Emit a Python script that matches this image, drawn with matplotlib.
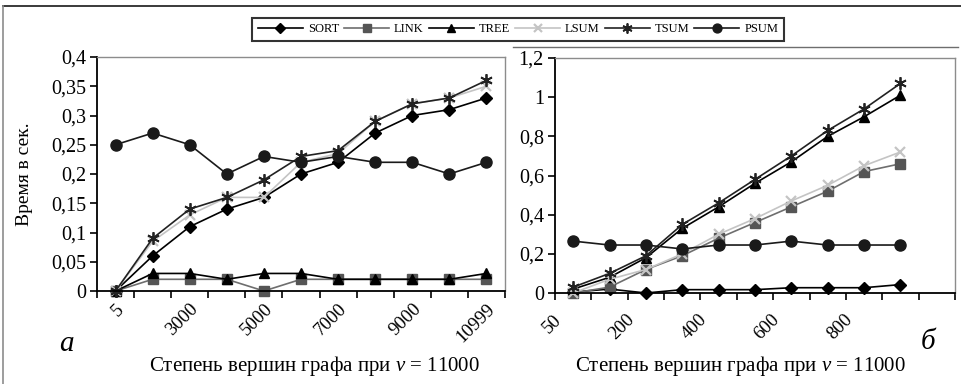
import matplotlib
matplotlib.use("Agg")
import matplotlib.pyplot as plt
from matplotlib.lines import Line2D
from matplotlib.transforms import ScaledTranslation

plt.rcParams["font.family"] = ["Liberation Serif", "DejaVu Serif"]
plt.rcParams["mathtext.fontset"] = "custom"
plt.rcParams["mathtext.rm"] = "Liberation Serif"
plt.rcParams["mathtext.it"] = "Liberation Serif:italic"

# ---------------------------------------------------------------------------
# Data (a): degree up to 10999, v = 11000
# ---------------------------------------------------------------------------
LEFT_CATS = ["5", "1000", "3000", "4000", "5000", "6000", "7000", "8000", "9000", "10000", "10999"]
LEFT_SORT = [0.0, 0.06, 0.11, 0.14, 0.16, 0.20, 0.22, 0.27, 0.30, 0.31, 0.33]
LEFT_LINK = [0.0, 0.02, 0.02, 0.02, 0.0, 0.02, 0.02, 0.02, 0.02, 0.02, 0.02]
LEFT_TREE = [0.0, 0.03, 0.03, 0.02, 0.03, 0.03, 0.02, 0.02, 0.02, 0.02, 0.03]
LEFT_LSUM = [0.0, 0.085, 0.13, 0.16, 0.16, 0.22, 0.235, 0.29, 0.32, 0.33, 0.35]
LEFT_TSUM = [0.0, 0.09, 0.14, 0.16, 0.19, 0.23, 0.24, 0.29, 0.32, 0.33, 0.36]
LEFT_PSUM = [0.25, 0.27, 0.25, 0.20, 0.23, 0.22, 0.23, 0.22, 0.22, 0.20, 0.22]
LEFT_YTICKS = [0, 0.05, 0.1, 0.15, 0.2, 0.25, 0.3, 0.35, 0.4]
LEFT_YLABELS = ["0", "0,05", "0,1", "0,15", "0,2", "0,25", "0,3", "0,35", "0,4"]

# ---------------------------------------------------------------------------
# Data (б): degree 50..900, v = 11000 (11th category left empty)
# ---------------------------------------------------------------------------
RIGHT_CATS = ["50", "100", "200", "300", "400", "500", "600", "700", "800", "900", ""]
RIGHT_SORT = [0.005, 0.02, 0.0, 0.017, 0.017, 0.017, 0.027, 0.027, 0.027, 0.043]
RIGHT_LINK = [0.0, 0.03, 0.12, 0.19, 0.28, 0.36, 0.44, 0.52, 0.62, 0.66]
RIGHT_TREE = [0.02, 0.08, 0.18, 0.33, 0.44, 0.56, 0.67, 0.80, 0.90, 1.01]
RIGHT_LSUM = [0.0, 0.07, 0.12, 0.20, 0.30, 0.38, 0.47, 0.55, 0.65, 0.72]
RIGHT_TSUM = [0.03, 0.10, 0.19, 0.35, 0.46, 0.58, 0.70, 0.83, 0.94, 1.07]
RIGHT_PSUM = [0.265, 0.245, 0.245, 0.225, 0.245, 0.245, 0.265, 0.245, 0.245, 0.245]
RIGHT_YTICKS = [0, 0.2, 0.4, 0.6, 0.8, 1.0, 1.2]
RIGHT_YLABELS = ["0", "0,2", "0,4", "0,6", "0,8", "1", "1,2"]

XLABEL = "Степень вершин графа при $\\mathit{v}$ = 11000"
YLABEL = "Время в сек."

# series styles
STYLES = {
    "SORT": dict(color="black", marker="D", mfc="black", mec="black", ms=6),
    "LINK": dict(color="#6e6e6e", marker="s", mfc="#555555", mec="#555555", ms=6.5),
    "TREE": dict(color="black", marker="^", mfc="black", mec="black", ms=7.5),
    "LSUM": dict(color="#c4c4c4", marker="x", mfc="#c4c4c4", mec="#c4c4c4", ms=7.5, mew=1.6),
    "TSUM": dict(color="#222222", marker=(6, 2, 0), mfc="#222222", mec="#222222", ms=9, mew=1.3),
    "PSUM": dict(color="#1a1a1a", marker="o", mfc="#1a1a1a", mec="#1a1a1a", ms=8),
}
ORDER = ["SORT", "LINK", "TREE", "LSUM", "TSUM", "PSUM"]


def draw_panel(ax, cats, series, yticks, ylabels, label_dx, label_pad):
    n = len(cats)
    handles = []
    for name in ORDER:
        vals = series[name]
        (h,) = ax.plot(range(len(vals)), vals, lw=1.2, label=name, **STYLES[name])
        h.set_clip_on(False)
        handles.append(h)

    ax.set_xlim(-0.5, n - 0.5)
    ax.set_ylim(yticks[0], yticks[-1])
    ax.set_yticks(yticks)
    ax.set_yticklabels(ylabels, fontsize=14.5)

    # category labels every other category, tick marks on boundaries
    pos = list(range(0, n, 2))
    ax.set_xticks(pos)
    ax.set_xticklabels([cats[i] for i in pos], fontsize=13.5, rotation=45,
                       ha="right", va="top")
    ax.set_xticks([i - 0.5 for i in range(n + 1)], minor=True)
    ax.tick_params(axis="x", which="major", length=0, pad=label_pad)
    ax.tick_params(axis="x", which="minor", length=5, width=1.2, direction="out")
    ax.tick_params(axis="y", length=5, width=1.2, direction="out", pad=3)
    offset = ScaledTranslation(label_dx / 100, 0, ax.figure.dpi_scale_trans)
    for lab in ax.get_xticklabels():
        lab.set_transform(lab.get_transform() + offset)

    for side in ("top", "right"):
        ax.spines[side].set_color("#8c8c8c")
        ax.spines[side].set_linewidth(1.0)
    for side in ("left", "bottom"):
        ax.spines[side].set_color("black")
        ax.spines[side].set_linewidth(1.3)
    return handles


fig = plt.figure(figsize=(9.61, 3.84), dpi=100)

ax_a = fig.add_axes([97 / 961, 1 - 291 / 384, 408 / 961, 234 / 384])
ax_b = fig.add_axes([555 / 961, 1 - 293 / 384, 400 / 961, 235 / 384])

handles = draw_panel(
    ax_a, LEFT_CATS,
    dict(SORT=LEFT_SORT, LINK=LEFT_LINK, TREE=LEFT_TREE,
         LSUM=LEFT_LSUM, TSUM=LEFT_TSUM, PSUM=LEFT_PSUM),
    LEFT_YTICKS, LEFT_YLABELS, label_dx=12, label_pad=7,
)
draw_panel(
    ax_b, RIGHT_CATS,
    dict(SORT=RIGHT_SORT, LINK=RIGHT_LINK, TREE=RIGHT_TREE,
         LSUM=RIGHT_LSUM, TSUM=RIGHT_TSUM, PSUM=RIGHT_PSUM),
    RIGHT_YTICKS, RIGHT_YLABELS, label_dx=-8, label_pad=13,
)

ax_a.set_ylabel(YLABEL, fontsize=14)
ax_a.yaxis.set_label_coords((33 - 97) / 408, 0.5)

fig.text(314 / 961, 1 - 366 / 384, XLABEL, fontsize=15, ha="center", va="center")
fig.text(740 / 961, 1 - 366 / 384, XLABEL, fontsize=15, ha="center", va="center")
fig.text(66 / 961, 1 - 344 / 384, "а", fontsize=21, style="italic", ha="center", va="center")
fig.text(928 / 961, 1 - 342 / 384, "б", fontsize=21, style="italic", ha="center", va="center")

# chart frames
fig.add_artist(Line2D([3 / 961, 1.0], [1 - 6 / 384] * 2, transform=fig.transFigure,
                      color="#3a3a3a", lw=1.4))
fig.add_artist(Line2D([3 / 961] * 2, [0, 1 - 6 / 384], transform=fig.transFigure,
                      color="#8c8c8c", lw=1.2))
fig.add_artist(Line2D([513 / 961, 958 / 961], [1 - 47 / 384] * 2, transform=fig.transFigure,
                      color="#6e6e6e", lw=1.0))

leg = fig.legend(handles=handles, loc="center", bbox_to_anchor=(518 / 961, 1 - 29.5 / 384),
                 ncol=6, fontsize=9, frameon=True, fancybox=False, edgecolor="black",
                 handlelength=3.6, handletextpad=0.4, columnspacing=0.4,
                 borderpad=0.45, markerscale=0.8)
leg.get_frame().set_linewidth(1.5)

fig.savefig("out.png", dpi=100)
